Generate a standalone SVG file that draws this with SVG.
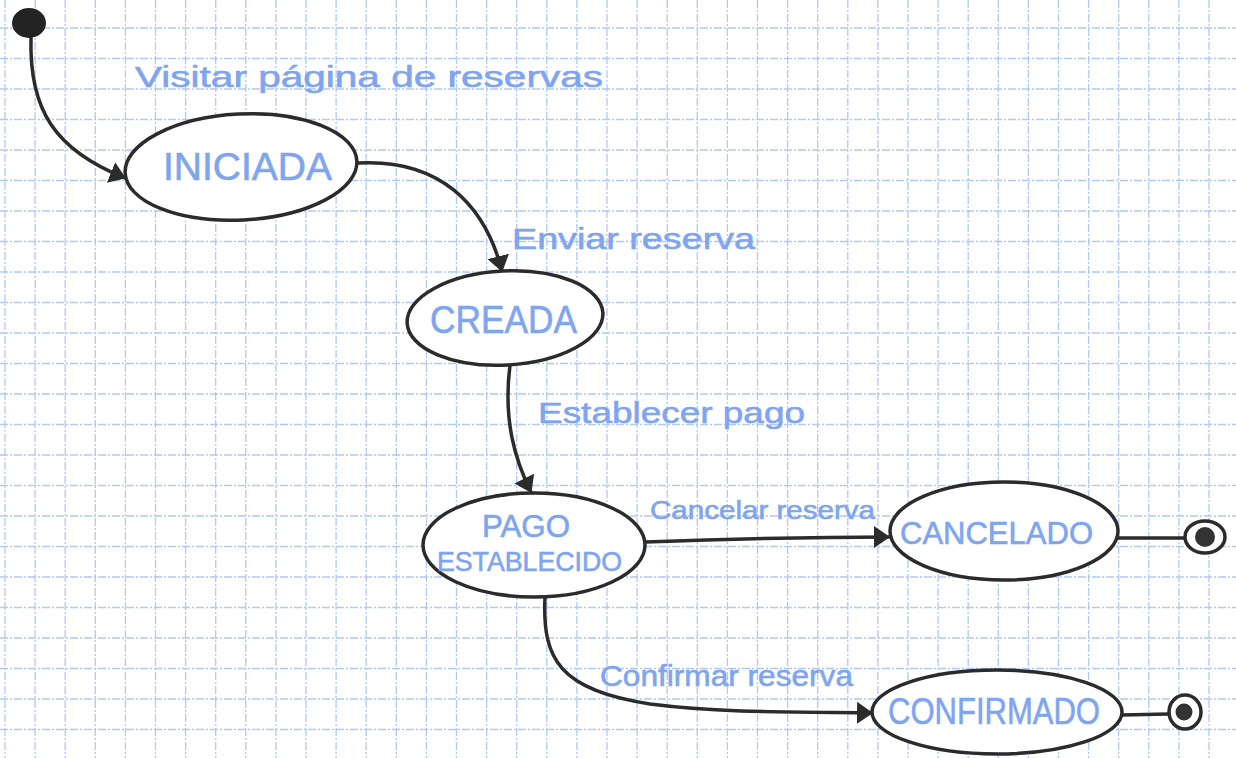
<svg xmlns="http://www.w3.org/2000/svg" width="1236" height="758" viewBox="0 0 1236 758">
<defs>
<style>
.grid line{stroke:#b1c9f3;stroke-width:1.3;stroke-dasharray:8 2 2 2}
.state{fill:#ffffff;stroke:#2b2b2b;stroke-width:3.5}
.conn{fill:none;stroke:#2b2b2b;stroke-width:3.5;stroke-linecap:round}
.lbl{font-family:"Liberation Sans","DejaVu Sans",sans-serif;fill:#7ea5ee;stroke:#7ea5ee;stroke-width:0.6}
.name{font-family:"Liberation Sans","DejaVu Sans",sans-serif;fill:#7ea5ee;stroke:#7ea5ee;stroke-width:0.6}
</style>
<marker id="arr" markerUnits="userSpaceOnUse" viewBox="0 0 16 22" refX="15" refY="11" markerWidth="16" markerHeight="22" orient="auto">
<path d="M0,0 L16,11 L0,22 z" fill="#2b2b2b"/>
</marker>
</defs>
<rect x="0" y="0" width="1236" height="758" fill="#ffffff"/>
<g class="grid" id="grid">
<line x1="5" y1="0" x2="5" y2="758"/><line x1="35.1" y1="0" x2="35.1" y2="758"/><line x1="65.2" y1="0" x2="65.2" y2="758"/><line x1="95.3" y1="0" x2="95.3" y2="758"/><line x1="125.4" y1="0" x2="125.4" y2="758"/><line x1="155.5" y1="0" x2="155.5" y2="758"/><line x1="185.6" y1="0" x2="185.6" y2="758"/><line x1="215.7" y1="0" x2="215.7" y2="758"/><line x1="245.8" y1="0" x2="245.8" y2="758"/><line x1="275.9" y1="0" x2="275.9" y2="758"/><line x1="306" y1="0" x2="306" y2="758"/><line x1="336.1" y1="0" x2="336.1" y2="758"/><line x1="366.2" y1="0" x2="366.2" y2="758"/><line x1="396.3" y1="0" x2="396.3" y2="758"/><line x1="426.4" y1="0" x2="426.4" y2="758"/><line x1="456.5" y1="0" x2="456.5" y2="758"/><line x1="486.6" y1="0" x2="486.6" y2="758"/><line x1="516.7" y1="0" x2="516.7" y2="758"/><line x1="546.8" y1="0" x2="546.8" y2="758"/><line x1="576.9" y1="0" x2="576.9" y2="758"/><line x1="607" y1="0" x2="607" y2="758"/><line x1="637.1" y1="0" x2="637.1" y2="758"/><line x1="667.2" y1="0" x2="667.2" y2="758"/><line x1="697.3" y1="0" x2="697.3" y2="758"/><line x1="727.4" y1="0" x2="727.4" y2="758"/><line x1="757.5" y1="0" x2="757.5" y2="758"/><line x1="787.6" y1="0" x2="787.6" y2="758"/><line x1="817.7" y1="0" x2="817.7" y2="758"/><line x1="847.8" y1="0" x2="847.8" y2="758"/><line x1="877.9" y1="0" x2="877.9" y2="758"/><line x1="908" y1="0" x2="908" y2="758"/><line x1="938.1" y1="0" x2="938.1" y2="758"/><line x1="968.2" y1="0" x2="968.2" y2="758"/><line x1="998.3" y1="0" x2="998.3" y2="758"/><line x1="1028.4" y1="0" x2="1028.4" y2="758"/><line x1="1058.5" y1="0" x2="1058.5" y2="758"/><line x1="1088.6" y1="0" x2="1088.6" y2="758"/><line x1="1118.7" y1="0" x2="1118.7" y2="758"/><line x1="1148.8" y1="0" x2="1148.8" y2="758"/><line x1="1178.9" y1="0" x2="1178.9" y2="758"/><line x1="1209" y1="0" x2="1209" y2="758"/>
<line x1="0" y1="28" x2="1236" y2="28"/><line x1="0" y1="58.5" x2="1236" y2="58.5"/><line x1="0" y1="89" x2="1236" y2="89"/><line x1="0" y1="119.5" x2="1236" y2="119.5"/><line x1="0" y1="150" x2="1236" y2="150"/><line x1="0" y1="180.5" x2="1236" y2="180.5"/><line x1="0" y1="211" x2="1236" y2="211"/><line x1="0" y1="241.5" x2="1236" y2="241.5"/><line x1="0" y1="272" x2="1236" y2="272"/><line x1="0" y1="302.5" x2="1236" y2="302.5"/><line x1="0" y1="333" x2="1236" y2="333"/><line x1="0" y1="363.5" x2="1236" y2="363.5"/><line x1="0" y1="394" x2="1236" y2="394"/><line x1="0" y1="424.5" x2="1236" y2="424.5"/><line x1="0" y1="455" x2="1236" y2="455"/><line x1="0" y1="485.5" x2="1236" y2="485.5"/><line x1="0" y1="516" x2="1236" y2="516"/><line x1="0" y1="546.5" x2="1236" y2="546.5"/><line x1="0" y1="577" x2="1236" y2="577"/><line x1="0" y1="607.5" x2="1236" y2="607.5"/><line x1="0" y1="638" x2="1236" y2="638"/><line x1="0" y1="668.5" x2="1236" y2="668.5"/><line x1="0" y1="699" x2="1236" y2="699"/><line x1="0" y1="729.5" x2="1236" y2="729.5"/>
</g>
<g id="connectors">
<path class="conn" d="M31,38 C29,110 55,150 125,178" marker-end="url(#arr)"/>
<path class="conn" d="M357,163 C440,158 485,205 502,271" marker-end="url(#arr)"/>
<path class="conn" d="M510,365 C503,420 515,460 531,492" marker-end="url(#arr)"/>
<path class="conn" d="M645,542 C730,539 800,537 889,537" marker-end="url(#arr)"/>
<path class="conn" d="M545,597 C542,660 560,690 650,704 C720,713 800,712 872,713" marker-end="url(#arr)"/>
<path class="conn" d="M1118,538 L1184,538"/>
<path class="conn" d="M1122,715 L1168,714"/>
<text class="lbl" x="135" y="87" font-size="30" textLength="468" lengthAdjust="spacingAndGlyphs">Visitar página de reservas</text>
<text class="lbl" x="512" y="249" font-size="30" textLength="243" lengthAdjust="spacingAndGlyphs">Enviar reserva</text>
<text class="lbl" x="538" y="423" font-size="30" textLength="267" lengthAdjust="spacingAndGlyphs">Establecer pago</text>
<text class="lbl" x="650" y="519" font-size="25" textLength="225" lengthAdjust="spacingAndGlyphs">Cancelar reserva</text>
<text class="lbl" x="600" y="686" font-size="29" textLength="253" lengthAdjust="spacingAndGlyphs">Confirmar reserva</text>
</g>
<g id="start">
<ellipse cx="29" cy="23" rx="17" ry="15" fill="#232323"/>
</g>
<g id="iniciada">
<ellipse class="state" cx="241" cy="167" rx="116" ry="53" transform="rotate(-3 241 167)"/>
<text class="name" x="163" y="180" font-size="38" textLength="169" lengthAdjust="spacingAndGlyphs">INICIADA</text>
</g>
<g id="creada">
<ellipse class="state" cx="505" cy="318" rx="98" ry="47" transform="rotate(-3 505 318)"/>
<text class="name" x="430" y="333" font-size="38" textLength="147" lengthAdjust="spacingAndGlyphs">CREADA</text>
</g>
<g id="pago-establecido">
<ellipse class="state" cx="534" cy="545" rx="111" ry="52"/>
<text class="name" x="482" y="537" font-size="31" textLength="88" lengthAdjust="spacingAndGlyphs">PAGO</text>
<text class="name" x="437" y="571" font-size="28" textLength="185" lengthAdjust="spacingAndGlyphs">ESTABLECIDO</text>
</g>
<g id="cancelado">
<ellipse class="state" cx="1004" cy="531" rx="114" ry="49"/>
<text class="name" x="900" y="544" font-size="32" textLength="193" lengthAdjust="spacingAndGlyphs">CANCELADO</text>
</g>
<g id="confirmado">
<ellipse class="state" cx="997" cy="712" rx="125" ry="42"/>
<text class="name" x="888" y="724" font-size="37" textLength="212" lengthAdjust="spacingAndGlyphs">CONFIRMADO</text>
</g>
<g id="end-cancelado">
<ellipse cx="1205" cy="537" rx="20" ry="16" fill="#ffffff" stroke="#2b2b2b" stroke-width="3.5"/>
<circle cx="1205" cy="537" r="10" fill="#333333"/>
</g>
<g id="end-confirmado">
<ellipse cx="1185" cy="712" rx="16" ry="17" fill="#ffffff" stroke="#2b2b2b" stroke-width="3.5"/>
<circle cx="1184" cy="712" r="8.5" fill="#333333"/>
</g>
</svg>
